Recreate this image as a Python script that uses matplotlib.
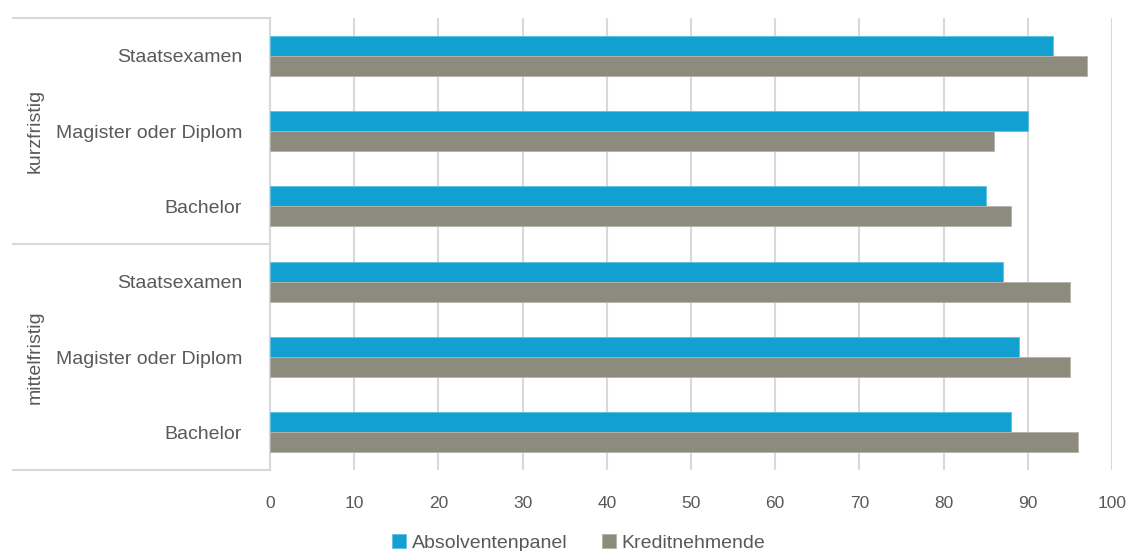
import matplotlib.pyplot as plt
import numpy as np
from matplotlib import font_manager

# Daten: von oben nach unten
gruppen = ["kurzfristig", "mittelfristig"]
abschluesse = ["Staatsexamen", "Magister oder Diplom", "Bachelor"]
absolventenpanel = [93, 90, 85, 87, 89, 88]
kreditnehmende = [97, 86, 88, 95, 95, 96]
x_ticks = [0, 10, 20, 30, 40, 50, 60, 70, 80, 90, 100]

names = {f.name for f in font_manager.fontManager.ttflist}
font = "Liberation Sans Narrow" if "Liberation Sans Narrow" in names else "Liberation Sans"
plt.rcParams['font.family'] = [font, 'DejaVu Sans']

blau = "#11a0cf"
grau = "#8d8b7d"
linie = "#d9d9d9"
text = "#595959"

fig = plt.figure(figsize=(11.28, 5.51), dpi=100)
W, H = 1128, 551
ax = fig.add_axes([270 / W, (H - 470) / H, (1112 - 270) / W, 452 / H])

n = len(absolventenpanel)
y = np.arange(n)
h = 0.265
ax.barh(y - h / 2, absolventenpanel, height=h, color=blau, edgecolor="#5fc0e0", linewidth=0.6, label="Absolventenpanel", zorder=3)
ax.barh(y + h / 2, kreditnehmende, height=h, color=grau, edgecolor="#b5b3a8", linewidth=0.6, label="Kreditnehmende", zorder=3)

ax.set_xlim(0, 100)
ax.set_ylim(n - 0.5, -0.5)
ax.set_xticks(x_ticks)
ax.set_xticklabels([str(t) for t in x_ticks])
ax.set_yticks(y)
ax.set_yticklabels(abschluesse * 2)
ax.tick_params(axis="x", length=0, pad=19, labelsize=12.5, labelcolor=text)
ax.tick_params(axis="y", length=0, pad=20, labelsize=14, labelcolor=text)
ax.grid(axis="x", color=linie, linewidth=1.5, zorder=0)
for s in ["top", "right", "bottom"]:
    ax.spines[s].set_visible(False)
ax.spines["left"].set_color(linie)
ax.spines["left"].set_linewidth(1.5)

# Trennlinien der Gruppen links
x0 = (13 - 270) / (1112 - 270)
for yy in [1.0, 0.5, 0.0]:
    ax.plot([x0, 0], [yy, yy], transform=ax.transAxes, color=linie, linewidth=1.5, clip_on=False)
for i, g in enumerate(gruppen):
    ax.text((35 - 270) / (1112 - 270), 0.75 - 0.5 * i, g, transform=ax.transAxes, rotation=90,
            ha="center", va="center", fontsize=14, color=text)

leg = fig.legend(loc="lower center", bbox_to_anchor=(0.513, -0.033), ncol=2, frameon=False,
                 fontsize=14, handlelength=0.7, handleheight=0.7, handletextpad=0.3, columnspacing=1.8)
for t in leg.get_texts():
    t.set_color(text)

fig.savefig("out.png", dpi=100)
